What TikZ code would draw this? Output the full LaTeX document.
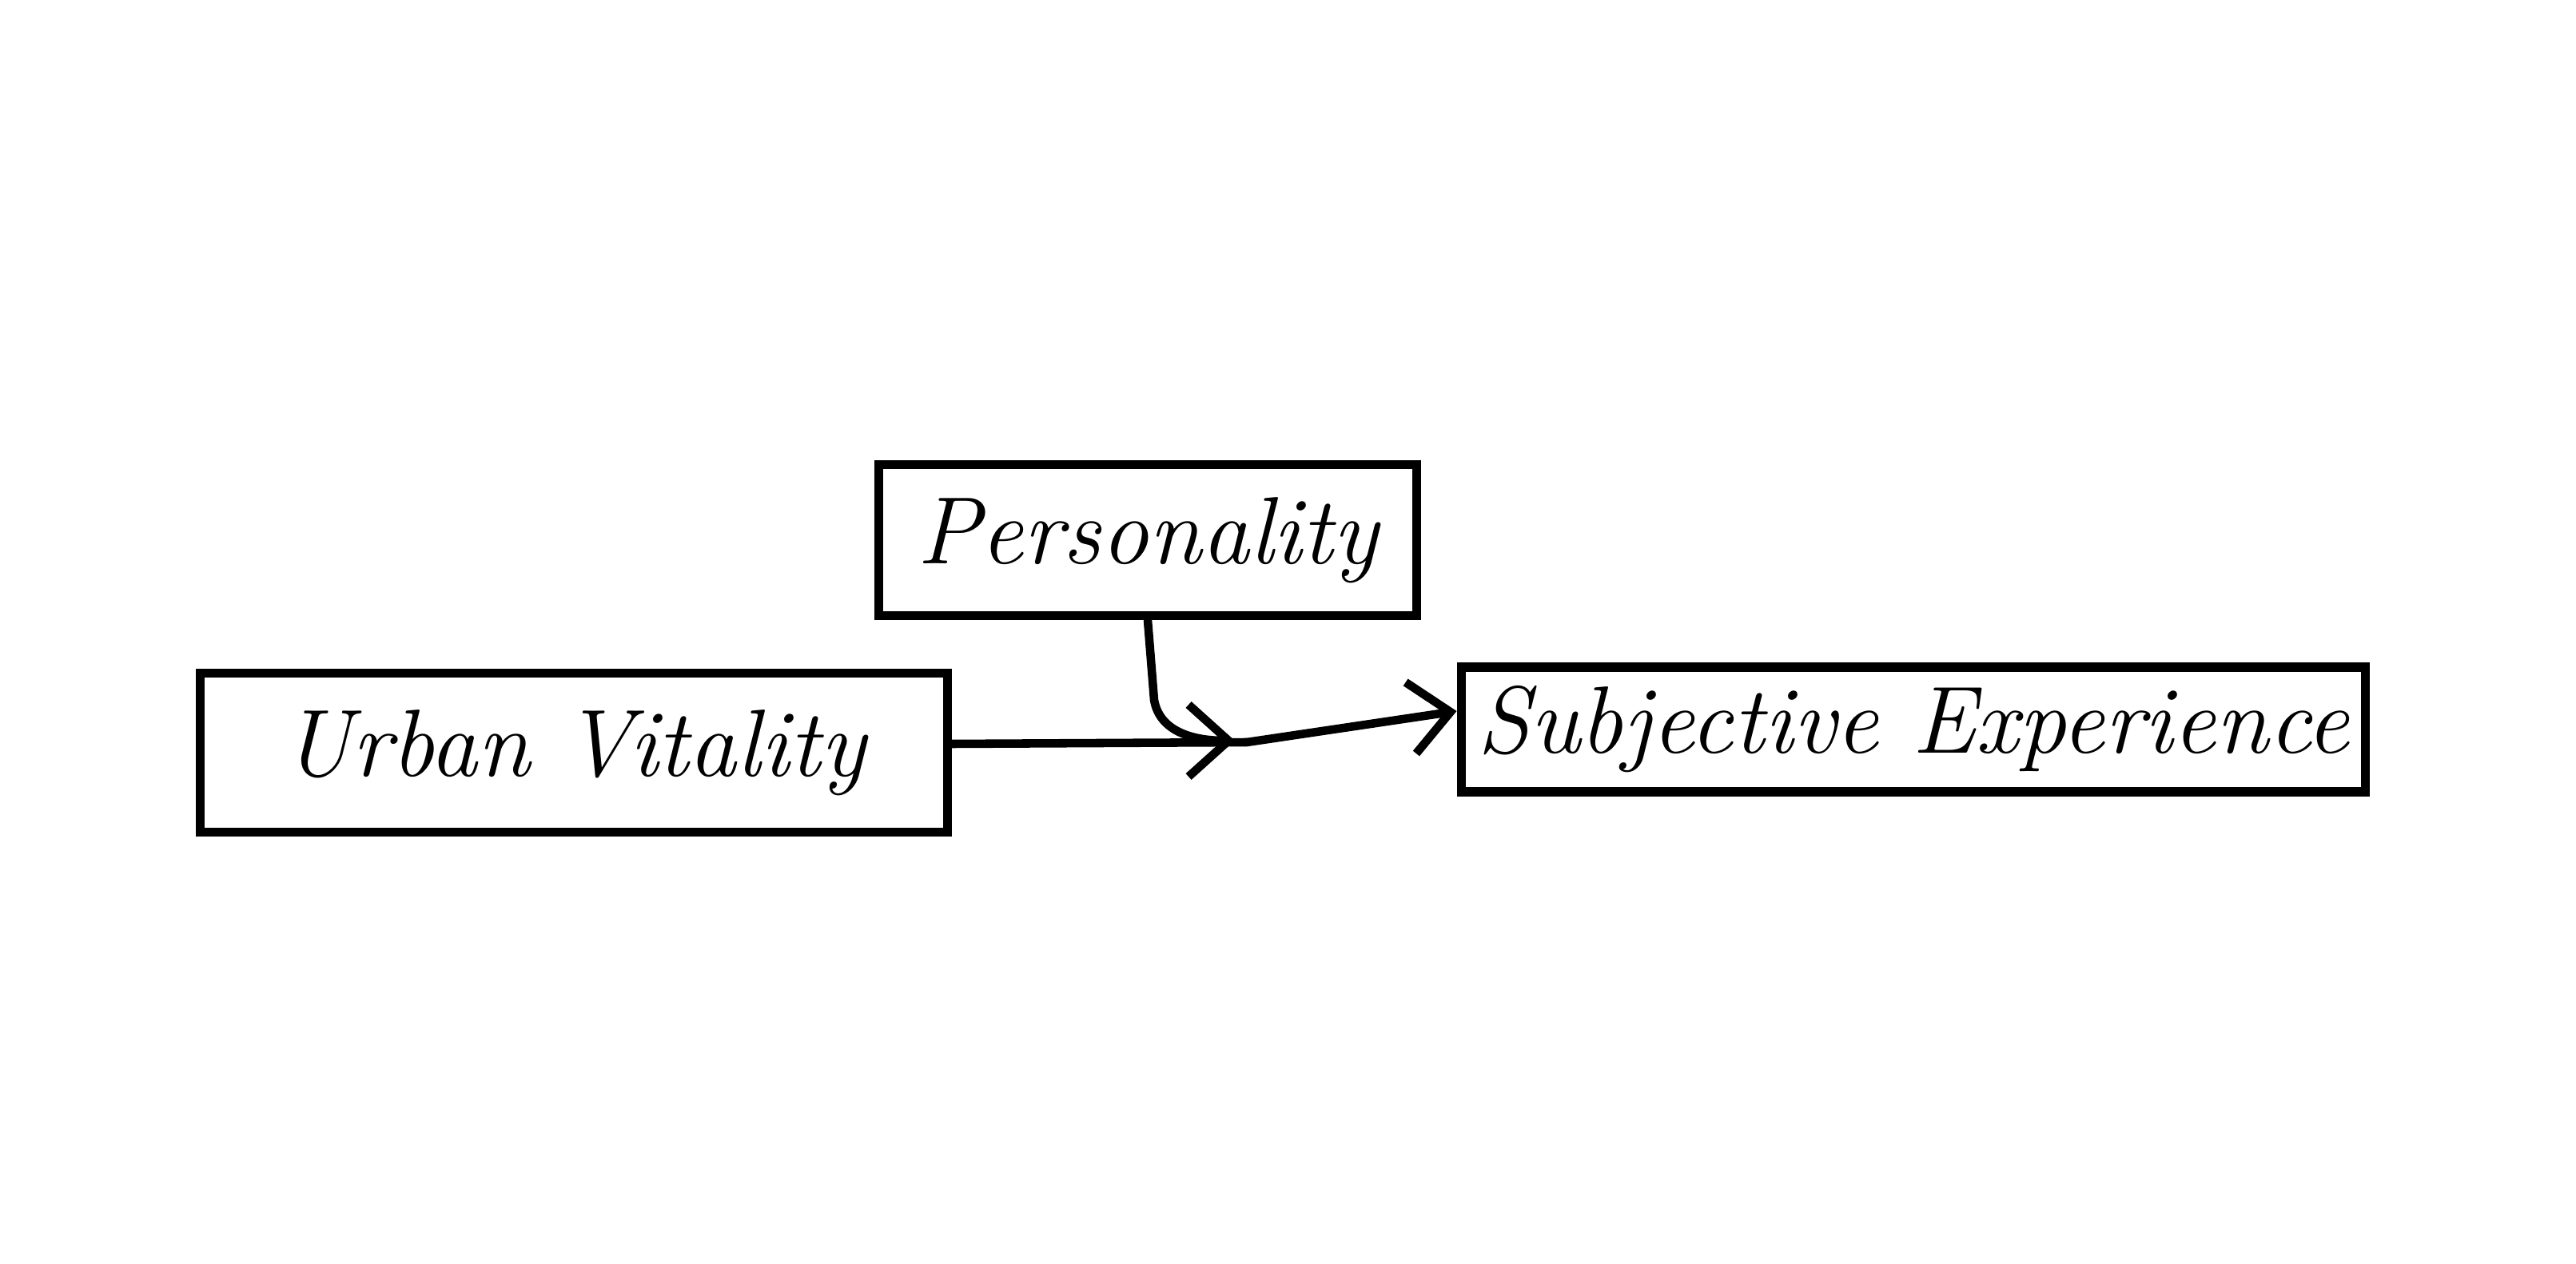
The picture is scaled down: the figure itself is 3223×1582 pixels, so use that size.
\documentclass[tikz,border=0pt]{standalone}
\usetikzlibrary{arrows.meta}
\begin{document}
\begin{tikzpicture}[x=0.01cm,y=-0.01cm,
  box/.style={draw=black, line width=3.2pt, inner sep=0pt, font=\fontsize{34}{40}\selectfont\itshape},
  conn/.style={draw=black, line width=3pt, line cap=round, line join=round},
  tip/.style={-{Straight Barb[length=5mm,width=9mm,line width=3pt]}}]
\useasboundingbox (0,0) rectangle (3223,1582);
\node[box, minimum width=6.72cm, minimum height=1.89cm] (per) at (1436,676) {Personality};
\node[box, minimum width=9.35cm, minimum height=1.99cm] (uv) at (718,942) {Urban Vitality};
\node[box, minimum width=11.31cm, minimum height=1.56cm] (se) at (2394,913) {Subjective Experience};
\coordinate (bend) at (1560,929);
\coordinate (mod) at (1545,927);
\draw[conn] ([yshift=0.11cm]uv.east) -- (bend);
\draw[conn, tip] (bend) -- ([yshift=0.23cm]se.west);
\draw[conn, tip] (per.south) -- ++(8,100) to[out=-80,in=180] (mod);
\end{tikzpicture}
\end{document}
